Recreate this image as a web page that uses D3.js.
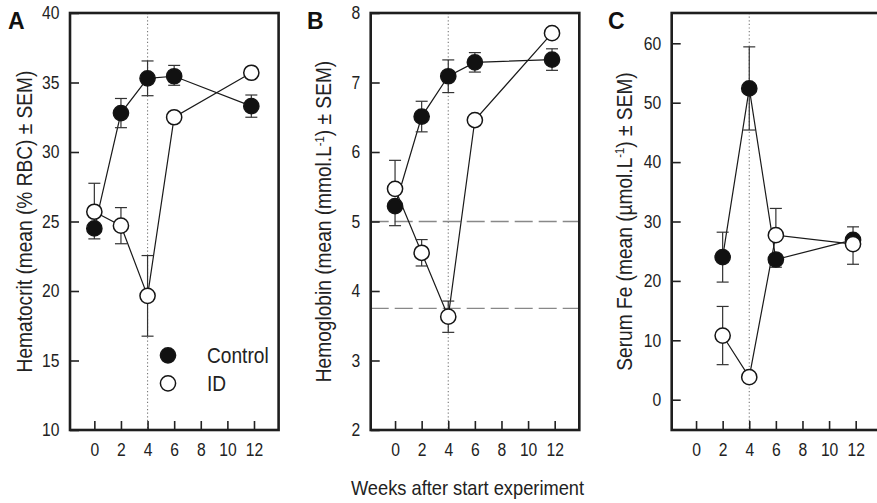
<!DOCTYPE html>
<html>
<head>
<meta charset="utf-8">
<script src="https://cdn.jsdelivr.net/npm/d3@7"></script>
<style>
  html, body { margin: 0; padding: 0; background: #fff; }
  svg { display: block; }
  .narrow { font-family: 'Liberation Sans', Arial, sans-serif; }
</style>
</head>
<body>
<svg id="chart" width="877" height="503"></svg>
<script>
// Sampling weeks
const weeks = [0, 2, 4, 6, 11.8];
const feWeeks = [2, 4, 6, 11.8];
const xTicks = [0, 2, 4, 6, 8, 10, 12];

// Hematocrit (% RBC), mean with SEM bars as [down, up]
const hctControl = [24.5, 32.8, 35.3, 35.45, 33.3];
const hctControlErr = [[0.75, 0], [1.05, 1.05], [1.25, 1.25], [0.65, 0.78], [0.8, 0.8]];
const hctID = [25.7, 24.7, 19.65, 32.5, 35.7];
const hctIDErr = [[0, 2.05], [1.3, 1.3], [2.9, 2.9], [0, 0], [0, 0]];

// Hemoglobin (mmol/L)
const hbControl = [5.22, 6.51, 7.09, 7.29, 7.33];
const hbControlErr = [[0.28, 0], [0.22, 0.22], [0.235, 0.235], [0.14, 0.14], [0.155, 0.155]];
const hbID = [5.47, 4.55, 3.63, 6.46, 7.71];
const hbIDErr = [[0, 0.41], [0.19, 0.19], [0.225, 0.225], [0, 0], [0, 0]];
const hbRefLines = [5, 3.75];

// Serum Fe (µmol/L)
const feControl = [24.0, 52.4, 23.6, 26.9];
const feControlErr = [[4.2, 4.2], [7.0, 7.0], [1.3, 0], [0, 2.2]];
const feID = [10.8, 3.8, 27.7, 26.2];
const feIDErr = [[4.9, 4.9], [0, 0], [0, 4.5], [3.4, 0]];

const hctTicks = [10, 15, 20, 25, 30, 35, 40];
const hbTicks = [2, 3, 4, 5, 6, 7, 8];
const feTicks = [0, 10, 20, 30, 40, 50, 60];

const svg = d3.select('#chart');
const plotTop = 13, plotBottom = 430, plotWidth = 208.6;
const xDomain = [-1.83, 13.85];
const squeeze = 0.87; // horizontal compression giving a narrow sans look

function panel(opt) {
  const g = svg.append('g');
  const x = d3.scaleLinear().domain(xDomain).range([opt.left, opt.left + plotWidth]);
  const y = d3.scaleLinear().domain(opt.yDomain).range([plotBottom, plotTop]);

  // Vertical dotted marker at week 4
  g.append('line')
    .attr('x1', x(4)).attr('x2', x(4))
    .attr('y1', plotTop).attr('y2', plotBottom)
    .attr('stroke', '#777').attr('stroke-width', 1.1)
    .attr('stroke-dasharray', '1.2,2.4');

  // Horizontal dashed reference lines
  (opt.refLines || []).forEach(v => {
    g.append('line')
      .attr('x1', opt.left).attr('x2', opt.left + plotWidth)
      .attr('y1', y(v)).attr('y2', y(v))
      .attr('stroke', '#888').attr('stroke-width', 1.4)
      .attr('stroke-dasharray', '18,6');
  });

  // Y axis with inward ticks
  const ya = g.append('g')
    .attr('transform', `translate(${opt.left},0)`)
    .call(d3.axisLeft(y).tickValues(opt.yTicks).tickFormat(d3.format('d'))
      .tickSizeInner(-9).tickSizeOuter(0).tickPadding(10.5));
  ya.select('.domain').remove();
  ya.selectAll('.tick line').attr('stroke', '#222').attr('stroke-width', 1.6);
  ya.selectAll('.tick text').attr('class', 'narrow').attr('font-size', 18).attr('fill', '#222')
    .attr('x', -10.5 / squeeze).attr('transform', `scale(${squeeze},1)`);

  // X axis with inward ticks
  const xa = g.append('g')
    .attr('transform', `translate(0,${plotBottom})`)
    .call(d3.axisBottom(x).tickValues(xTicks).tickSizeInner(-9).tickSizeOuter(0).tickPadding(13));
  xa.select('.domain').remove();
  xa.selectAll('.tick line').attr('stroke', '#222').attr('stroke-width', 1.6);
  xa.selectAll('.tick text').attr('class', 'narrow').attr('font-size', 18).attr('fill', '#222')
    .attr('transform', `scale(${squeeze},1)`);

  // Frame
  g.append('rect')
    .attr('x', opt.left).attr('y', plotTop)
    .attr('width', plotWidth).attr('height', plotBottom - plotTop)
    .attr('fill', 'none').attr('stroke', '#1e1e1e').attr('stroke-width', 2.6);

  const line = d3.line().x(d => x(d[0])).y(d => y(d[1]));
  const series = [
    { xs: opt.xs, vals: opt.control, err: opt.controlErr, fill: '#111' },
    { xs: opt.xs, vals: opt.id, err: opt.idErr, fill: '#fff' }
  ];

  // Connecting lines
  series.forEach(s => {
    g.append('path')
      .datum(s.xs.map((w, i) => [w, s.vals[i]]))
      .attr('d', line)
      .attr('fill', 'none').attr('stroke', '#1a1a1a').attr('stroke-width', 1.2);
  });

  // Error bars
  series.forEach(s => {
    s.xs.forEach((w, i) => {
      const [dn, up] = s.err[i];
      const cx = x(w);
      [[dn, -1], [up, 1]].forEach(([e, dir]) => {
        if (!e) return;
        const yEnd = y(s.vals[i] + dir * e);
        g.append('line').attr('x1', cx).attr('x2', cx)
          .attr('y1', y(s.vals[i])).attr('y2', yEnd)
          .attr('stroke', '#333').attr('stroke-width', 1.2);
        g.append('line').attr('x1', cx - 6).attr('x2', cx + 6)
          .attr('y1', yEnd).attr('y2', yEnd)
          .attr('stroke', '#333').attr('stroke-width', 1.2);
      });
    });
  });

  // Markers
  series.forEach(s => {
    g.selectAll(null)
      .data(s.xs.map((w, i) => [w, s.vals[i]]))
      .join('circle')
      .attr('cx', d => x(d[0])).attr('cy', d => y(d[1]))
      .attr('r', 7.6)
      .attr('fill', s.fill).attr('stroke', '#151515').attr('stroke-width', 1.5);
  });

  // Panel letter
  g.append('text')
    .attr('x', opt.letterX).attr('y', 28.5)
    .attr('font-family', 'Liberation Sans, Arial, sans-serif')
    .attr('font-weight', 'bold').attr('font-size', 23).attr('fill', '#111')
    .text(opt.letter);

  // Y axis title
  const t = g.append('text')
    .attr('class', 'narrow')
    .attr('transform', `translate(${opt.titleX},${(plotTop + plotBottom) / 2}) rotate(-90) scale(${squeeze},1)`)
    .attr('text-anchor', 'middle')
    .attr('font-size', 22).attr('fill', '#222');
  opt.title.forEach(p => {
    const ts = t.append('tspan').text(p.t);
    if (p.sup) ts.attr('baseline-shift', 'super').attr('font-size', 13);
  });

  return { x, y, g };
}

panel({
  left: 70, letter: 'A', letterX: 8, titleX: 32,
  yDomain: [10, 40], yTicks: hctTicks,
  xs: weeks, control: hctControl, controlErr: hctControlErr, id: hctID, idErr: hctIDErr,
  title: [{ t: 'Hematocrit (mean (% RBC) ± SEM)' }]
});

panel({
  left: 370.7, letter: 'B', letterX: 307, titleX: 331,
  yDomain: [2, 8], yTicks: hbTicks, refLines: hbRefLines,
  xs: weeks, control: hbControl, controlErr: hbControlErr, id: hbID, idErr: hbIDErr,
  title: [{ t: 'Hemoglobin (mean (mmol.L' }, { t: '-1', sup: true }, { t: ') ± SEM)' }]
});

panel({
  left: 671.7, letter: 'C', letterX: 608, titleX: 631.5,
  yDomain: [-5.1, 65.1], yTicks: feTicks,
  xs: feWeeks, control: feControl, controlErr: feControlErr, id: feID, idErr: feIDErr,
  title: [{ t: 'Serum Fe (mean (µmol.L' }, { t: '-1', sup: true }, { t: ') ± SEM)' }]
});

// Legend in panel A
const legend = [
  { label: 'Control', fill: '#111' },
  { label: 'ID', fill: '#fff' }
];
legend.forEach((d, i) => {
  const cy = 355.3 + i * 28;
  svg.append('circle').attr('cx', 168).attr('cy', cy).attr('r', 7.6)
    .attr('fill', d.fill).attr('stroke', '#151515').attr('stroke-width', 1.5);
  svg.append('text').attr('class', 'narrow')
    .attr('transform', `translate(207,${cy + 7.8}) scale(${squeeze},1)`)
    .attr('font-size', 22).attr('fill', '#222')
    .text(d.label);
});

// Shared x axis title
svg.append('text').attr('class', 'narrow')
  .attr('transform', `translate(467.5,495) scale(${squeeze},1)`)
  .attr('text-anchor', 'middle')
  .attr('font-size', 21).attr('fill', '#222')
  .text('Weeks after start experiment');
</script>
</body>
</html>
